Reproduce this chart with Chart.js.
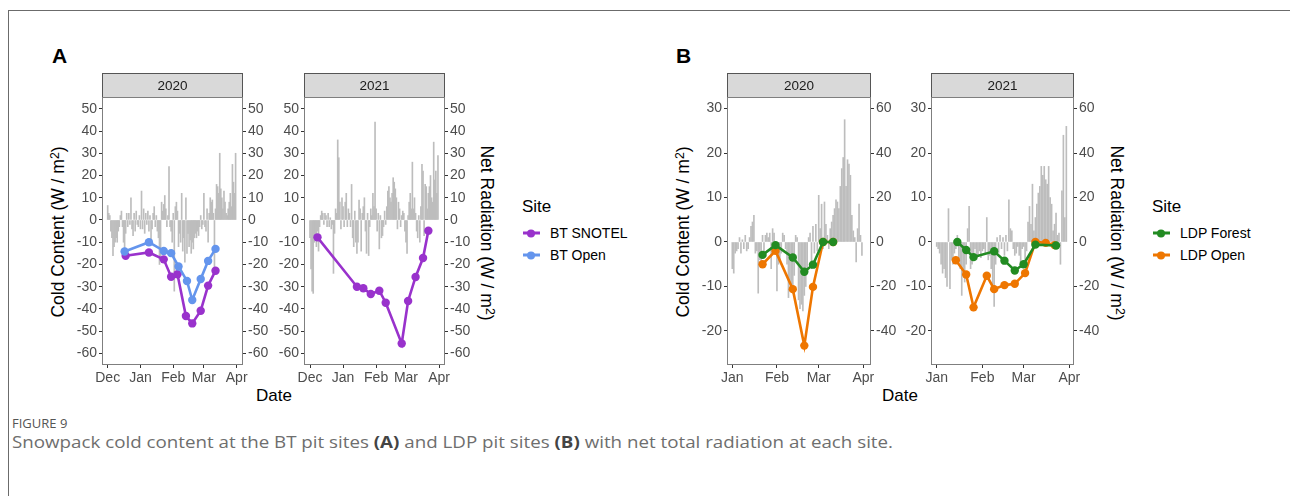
<!DOCTYPE html>
<html>
<head>
<meta charset="utf-8">
<script src="https://cdn.jsdelivr.net/npm/chart.js@4.4.1/dist/chart.umd.min.js"></script>
<style>
body { margin: 0; background: #fff; }
#page { position: relative; width: 1290px; height: 496px; overflow: hidden; font-family: "Liberation Sans", Arial, sans-serif; }
.t { position: absolute; line-height: 1; white-space: nowrap; color: #000; }
.mid { transform: translateY(-50%); }
.ctr { transform: translate(-50%, -50%); }
.up { transform: translate(-50%, -50%) rotate(-90deg); }
.down { transform: translate(-50%, -50%) rotate(90deg); }
sup { font-size: 0.7em; vertical-align: 0.45em; line-height: 0; }
.key { position: absolute; width: 17px; height: 3px; transform: translateY(-50%); }
.key i { position: absolute; left: 4px; top: -2.5px; width: 8px; height: 8px; border-radius: 50%; background: inherit; }
canvas { position: absolute; }
</style>
</head>
<body>
<div id="page">
  <div style="position:absolute;left:8px;top:10px;width:1282px;height:1px;background:#6b6b6b"></div>
  <div style="position:absolute;left:8px;top:10px;width:1px;height:486px;background:#6b6b6b"></div>

  <div class="t mid" style="left:52px;top:55px;font-size:21px;font-weight:bold">A</div>
  <div class="t mid" style="left:676px;top:55px;font-size:21px;font-weight:bold">B</div>

  <div class="t up" style="left:59px;top:232px;font-size:17.5px">Cold Content (W / m<sup>2</sup>)</div>
  <div class="t down" style="left:486px;top:233px;font-size:17.5px">Net Radiation (W / m<sup>2</sup>)</div>
  <div class="t up" style="left:684px;top:232px;font-size:17.5px">Cold Content (W / m<sup>2</sup>)</div>
  <div class="t down" style="left:1116px;top:233px;font-size:17.5px">Net Radiation (W / m<sup>2</sup>)</div>

  <div class="t ctr" style="left:274px;top:395px;font-size:17px">Date</div>
  <div class="t ctr" style="left:900px;top:395px;font-size:17px">Date</div>

  <div class="t mid" style="left:522px;top:206px;font-size:17px">Site</div>
  <div class="key" style="left:523px;top:233px;background:#9932cc"><i></i></div>
  <div class="t mid" style="left:550px;top:233px;font-size:14px">BT SNOTEL</div>
  <div class="key" style="left:523px;top:255px;background:#6495ed"><i></i></div>
  <div class="t mid" style="left:550px;top:255px;font-size:14px">BT Open</div>

  <div class="t mid" style="left:1152px;top:206px;font-size:17px">Site</div>
  <div class="key" style="left:1153px;top:233px;background:#228b22"><i></i></div>
  <div class="t mid" style="left:1180px;top:233px;font-size:14px">LDP Forest</div>
  <div class="key" style="left:1153px;top:255px;background:#ee7600"><i></i></div>
  <div class="t mid" style="left:1180px;top:255px;font-size:14px">LDP Open</div>

  <div class="t mid" style="left:12px;top:423px;font-size:13px;color:#555;font-family:'Open Sans',sans-serif">FIGURE 9</div>
  <div id="caption" class="t" style="left:12px;top:443px;font-size:15.5px;color:#6e6e6e;font-family:'Open Sans',sans-serif;transform-origin:0 50%">Snowpack cold content at the BT pit sites <b style="color:#444">(A)</b> and LDP pit sites <b style="color:#444">(B)</b> with net total radiation at each site.</div>
</div>
<script>
// month ticks (day number from first of the first month)
const btMonths = ['Dec', 'Jan', 'Feb', 'Mar', 'Apr'];
const btMonthDays2020 = [0, 31, 62, 91, 122];
const btMonthDays2021 = [0, 31, 62, 90, 121];
const ldpMonths = ['Jan', 'Feb', 'Mar', 'Apr'];
const ldpMonthDays2020 = [0, 31, 60, 91];
const ldpMonthDays2021 = [0, 31, 59, 90];

const btTicks = [-60, -50, -40, -30, -20, -10, 0, 10, 20, 30, 40, 50];
const ldpColdTicks = [-20, -10, 0, 10, 20, 30];
const ldpRadTicks = [-40, -20, 0, 20, 40, 60];

// daily net radiation, BT (from Dec 1)
const btRad2020 = [
  6.5, 3, 2, -5, -8, -16, -12, -10, -8, -10,
  -5, -3, 2, 4, -3, -10, -14, -6, 3, -3,
  3, -2, 10, -4, -7, 3, -5, 4, -2, -3,
  2, -4, 13, -4, 5, -6, 3, -2, 4, -5,
  2, -10, -4, 3, 6, -3, 2, -5, -8, -20,
  -18, 8, 4, 7, 11, 5, -3, 2, 24, -3,
  -5, -10, 3, -32, 6, 8, 4, -12, -6, -10,
  12, -14, -8, -19, 10, -15, -6, -12, -9, -15,
  -10, -13, -8, -6, -8, -5, -7, -3, 2, -4,
  -2, 12, -3, -5, 5, -10, 3, 10, 8, 9,
  3, -22, 5, 16, 15, 12, 30, 14, 10, 5,
  13, 8, 3, 2, 5, 8, 12, 6, 25, 17,
  12, 30
];
const btRad2021 = [
  -8, -22, -32, -33, -10, -8, -12, -5, -14, -3,
  2, 4, 3, -2, 3, 2, -3, 3, -3, 1,
  -4, -2, -24, -6, 5, 3, 36, 28, 8, -4,
  10, 6, -3, 8, 12, -3, 5, 3, -3, 16,
  -8, -12, 4, -10, -15, -10, 9, 5, -14, 3,
  6, 10, -5, -15, 3, -16, -3, 5, 2, 12,
  6, 44, 5, -5, 3, -13, 2, -8, -7, -3,
  4, -2, 6, 13, 15, 10, 8, 12, 19, 17,
  14, 10, -4, 8, 5, -3, 2, 4, 3, -5,
  -10, -15, 2, 8, 12, 5, 26, 5, 10, 3,
  -5, -8, 2, -10, 6, 25, 22, -7, 16, 15,
  5, 12, 15, 20, 10, 8, 35, 18, 22, 12,
  29
];
// daily net radiation, LDP (from Jan 1)
const ldpRad2020 = [
  -12, -14, -5, -4, -3, 2, -5, 1, -3, 3,
  -4, -3, 2, 7, 9, 12, -5, -4, -23, -8,
  -10, 3, -5, 3, 4, 2, 4, -12, 6, 4,
  -3, -22, -10, -8, -5, 4, 3, -3, -10, -25,
  -18, -20, -23, -15, 3, 2, -26, -30, -28, -31,
  -24, -20, -12, 2, 4, -12, 7, -5, 8, -4,
  21, 6, 17, -3, 18, 8, 3, -3, 6, 9,
  12, 15, 19, 18, 15, 25, 33, 38, 55, 25,
  37, 35, 30, 12, 5, 2, -9, 6, 17, 3,
  -6
];
const ldpRad2021 = [
  -2, -3, -5, -10, -14, -12, -16, -20, 15, -21,
  -8, -10, -5, -3, 3, -8, -12, -24, -15, -18,
  -10, 6, 16, -12, -10, -5, -3, -8, -6, -4,
  -7, -4, -3, -5, 11, -8, -6, -12, -20, -29,
  -10, 2, -5, 3, -3, 2, -6, 3, -4, 19,
  6, 5, -3, -6, -5, -2, -6, -10, -3, -2,
  -8, -4, 9, 16, 8, 26, 5, 11, 17, 22,
  25, 34, 30, 34, 28, 26, 34, 20, 17, 5,
  8, 13, 3, 4, -10, 23, 48, 11, 52
];

// cold content at pit sites
const btSnotelDays2020 = [17, 39, 53, 60, 66, 74, 80, 88, 95, 102];
const btSnotel2020 = [-16.1, -14.6, -17.7, -25.5, -24.4, -43.2, -46.5, -40.8, -29.5, -22.8];
const btOpenDays2020 = [16, 39, 53, 60, 67, 75, 80, 88, 95, 102];
const btOpen2020 = [-14.2, -10, -13.9, -14.9, -20.9, -27.4, -36, -26.5, -18.4, -13];
const btSnotelDays2021 = [7, 44, 50, 57, 65, 71, 86, 92, 99, 106, 111];
const btSnotel2021 = [-7.8, -30, -30.7, -33.3, -31.8, -37.2, -55.5, -36.4, -25.6, -17.1, -4.8];

const ldpForestDays2020 = [21, 30, 42, 50, 56, 63, 70];
const ldpForest2020 = [-2.9, -0.7, -3.5, -6.7, -5.1, 0, 0];
const ldpOpenDays2020 = [21, 30, 42, 50, 56, 63, 70];
const ldpOpen2020 = [-5, -2, -10.6, -23.3, -10.1, 0, 0];
const ldpForestDays2021 = [14, 20, 25, 39, 46, 53, 59, 67, 81];
const ldpForest2021 = [0, -1.8, -3.4, -2.1, -4.2, -6.4, -5, -0.6, -0.8];
const ldpOpenDays2021 = [13, 20, 25, 34, 39, 46, 53, 60, 67, 74, 80];
const ldpOpen2021 = [-4.1, -7.3, -14.7, -7.6, -10.6, -9.7, -9.4, -7, 0, -0.2, -0.7];

const PURPLE = '#9932cc', BLUE = '#6495ed', GREEN = '#228b22', ORANGE = '#ee7600';
const LEFT_W = 50, RIGHT_W = 45, STRIP_H = 24, XAXIS_H = 22, PLOT_H = 268, PANEL_TOP = 73;
const tickFont = { family: 'Liberation Sans', size: 14 };

const panelFrame = {
  id: 'panelFrame',
  afterDraw(chart, args, opts) {
    const { ctx, chartArea: a } = chart;
    const w = a.right - a.left;
    ctx.save();
    ctx.fillStyle = '#d9d9d9';
    ctx.fillRect(a.left, a.top - STRIP_H, w, STRIP_H);
    ctx.strokeStyle = '#555';
    ctx.lineWidth = 1;
    ctx.strokeRect(a.left + 0.5, a.top - STRIP_H + 0.5, w - 1, STRIP_H);
    ctx.fillStyle = '#1a1a1a';
    ctx.font = '13.5px "Liberation Sans"';
    ctx.textAlign = 'center';
    ctx.textBaseline = 'middle';
    ctx.fillText(opts.text, a.left + w / 2, a.top - STRIP_H / 2 + 1);
    ctx.strokeStyle = '#7f7f7f';
    ctx.strokeRect(a.left + 0.5, a.top + 0.5, w - 1, a.bottom - a.top - 1);
    ctx.restore();
  }
};

function pts(days, vals) {
  return vals.map((v, i) => ({ x: days[i], y: v }));
}

function lineSet(label, days, vals, color, order) {
  return {
    type: 'line', label, data: pts(days, vals), yAxisID: 'y', order,
    borderColor: color, backgroundColor: color, borderWidth: 2.6,
    pointRadius: 4.2, pointBorderWidth: 0, pointBackgroundColor: color, tension: 0
  };
}

function axisTicks(list) {
  return s => { s.ticks = list.map(v => ({ value: v })); };
}

function yAxis(pos, min, max, ticks, width) {
  return {
    type: 'linear', position: pos, min, max,
    afterBuildTicks: axisTicks(ticks),
    afterFit: s => { s.width = width; s.paddingTop = 0; s.paddingBottom = 0; },
    grid: { drawOnChartArea: false, tickLength: 3, color: '#333' },
    border: { display: false },
    ticks: { font: tickFont, color: '#4d4d4d', padding: 2, callback: v => String(v) }
  };
}

function makePanel(p) {
  const page = document.getElementById('page');
  const canvas = document.createElement('canvas');
  const W = p.plotWidth + LEFT_W + RIGHT_W;
  const H = STRIP_H + PLOT_H + XAXIS_H;
  canvas.width = W;
  canvas.height = H;
  canvas.style.left = (p.plotLeft - LEFT_W) + 'px';
  canvas.style.top = PANEL_TOP + 'px';
  canvas.style.width = W + 'px';
  canvas.style.height = H + 'px';
  page.appendChild(canvas);

  const datasets = [{
    type: 'bar', label: 'Net radiation', yAxisID: 'r', order: 5,
    data: p.rad.map((v, i) => ({ x: i, y: v })),
    backgroundColor: '#bdbdbd', barThickness: 1
  }].concat(p.lines);

  new Chart(canvas, {
    type: 'bar',
    data: { datasets },
    options: {
      responsive: false, animation: false, devicePixelRatio: 1,
      layout: { padding: { top: STRIP_H, left: 0, right: 0, bottom: 0 } },
      plugins: { legend: { display: false }, tooltip: { enabled: false }, panelFrame: { text: p.strip } },
      scales: {
        x: {
          type: 'linear', min: p.xMin, max: p.xMax, offset: false,
          afterBuildTicks: axisTicks(p.monthDays),
          afterFit: s => { s.height = XAXIS_H; s.paddingLeft = 0; s.paddingRight = 0; },
          grid: { offset: false, drawOnChartArea: false, tickLength: 3, color: '#333' },
          border: { display: false },
          ticks: { font: tickFont, color: '#4d4d4d', padding: 2, maxRotation: 0, autoSkip: false,
                   callback: (v, i) => p.monthLabels[i] }
        },
        y: yAxis('left', p.yMin, p.yMax, p.yTicks, LEFT_W),
        r: yAxis('right', p.rMin, p.rMax, p.rTicks, RIGHT_W)
      }
    },
    plugins: [panelFrame]
  });
}

makePanel({
  strip: '2020', plotLeft: 102, plotWidth: 141, xMin: -5.39, xMax: 128.0,
  monthDays: btMonthDays2020, monthLabels: btMonths,
  yMin: -65.2, yMax: 55.3, yTicks: btTicks, rMin: -65.2, rMax: 55.3, rTicks: btTicks,
  rad: btRad2020,
  lines: [lineSet('BT SNOTEL', btSnotelDays2020, btSnotel2020, PURPLE, 2),
          lineSet('BT Open', btOpenDays2020, btOpen2020, BLUE, 1)]
});
makePanel({
  strip: '2021', plotLeft: 304, plotWidth: 141, xMin: -5.63, xMax: 126.6,
  monthDays: btMonthDays2021, monthLabels: btMonths,
  yMin: -65.2, yMax: 55.3, yTicks: btTicks, rMin: -65.2, rMax: 55.3, rTicks: btTicks,
  rad: btRad2021,
  lines: [lineSet('BT SNOTEL', btSnotelDays2021, btSnotel2021, PURPLE, 2)]
});
makePanel({
  strip: '2020', plotLeft: 727, plotWidth: 144, xMin: -3.68, xMax: 96.3,
  monthDays: ldpMonthDays2020, monthLabels: ldpMonths,
  yMin: -27.66, yMax: 32.6, yTicks: ldpColdTicks, rMin: -55.3, rMax: 65.2, rTicks: ldpRadTicks,
  rad: ldpRad2020,
  lines: [lineSet('LDP Open', ldpOpenDays2020, ldpOpen2020, ORANGE, 2),
          lineSet('LDP Forest', ldpForestDays2020, ldpForest2020, GREEN, 1)]
});
makePanel({
  strip: '2021', plotLeft: 931, plotWidth: 143, xMin: -3.87, xMax: 93.2,
  monthDays: ldpMonthDays2021, monthLabels: ldpMonths,
  yMin: -27.66, yMax: 32.6, yTicks: ldpColdTicks, rMin: -55.3, rMax: 65.2, rTicks: ldpRadTicks,
  rad: ldpRad2021,
  lines: [lineSet('LDP Open', ldpOpenDays2021, ldpOpen2021, ORANGE, 2),
          lineSet('LDP Forest', ldpForestDays2021, ldpForest2021, GREEN, 1)]
});

// stretch caption to the reference width
const cap = document.getElementById('caption');
const fitCaption = () => {
  cap.style.transform = 'translateY(-50%)';
  const w = cap.getBoundingClientRect().width;
  cap.style.transform = 'translateY(-50%) scaleX(' + (881 / w) + ')';
};
fitCaption();
if (document.fonts) document.fonts.ready.then(fitCaption);
</script>
</body>
</html>
